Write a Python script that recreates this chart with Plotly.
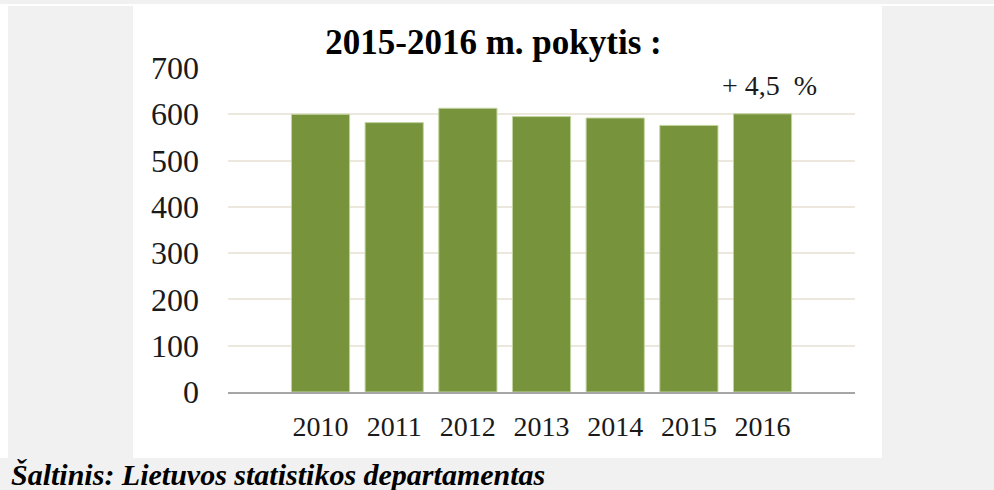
import plotly.graph_objects as go

# ---- data ----
years = ["2010", "2011", "2012", "2013", "2014", "2015", "2016"]
values = [600, 582, 613, 595, 592, 576, 601]
change_label = "+ 4,5\u00a0 %"
title_text = "2015-2016 m. pokytis :"
source_text = "Šaltinis: Lietuvos statistikos departamentas"
y_ticks = [0, 100, 200, 300, 400, 500, 600, 700]

W, H = 994, 490
L, R, T, B = 228, 139, 68, 98
PW, PH = W - L - R, H - T - B

def px(x):
    return (x - L) / PW

def py(y):
    return (H - B - y) / PH

GRAY = "#f1f1f1"
SERIF = "Liberation Serif, Times New Roman, serif"

fig = go.Figure()
fig.add_trace(go.Bar(
    x=years, y=values,
    marker=dict(color="#77933c", line=dict(color="#c4d4a0", width=1)),
    hoverinfo="x+y",
))

shapes = [
    dict(type="rect", xref="paper", yref="paper", x0=px(0), x1=px(W), y0=py(4), y1=py(0),
         fillcolor=GRAY, line_width=0, layer="below"),
    dict(type="rect", xref="paper", yref="paper", x0=px(0), x1=px(W), y0=py(H), y1=py(458),
         fillcolor=GRAY, line_width=0, layer="below"),
    dict(type="rect", xref="paper", yref="paper", x0=px(8), x1=px(133), y0=py(458), y1=py(6),
         fillcolor=GRAY, line_width=0, layer="below"),
    dict(type="rect", xref="paper", yref="paper", x0=px(882), x1=px(W), y0=py(458), y1=py(6),
         fillcolor=GRAY, line_width=0, layer="below"),
]

last_idx = len(years) - 1
annotations = [
    dict(x=last_idx, y=662, xref="x", yref="y", text=change_label, showarrow=False,
         xshift=7, yanchor="middle",
         font=dict(family=SERIF, size=28, color="#1a1a1a")),
    dict(x=px(9), y=py(474), xref="paper", yref="paper", xanchor="left", yanchor="middle",
         text="<b><i>" + source_text + "</i></b>", showarrow=False,
         font=dict(family=SERIF, size=30, color="black")),
]

fig.update_layout(
    width=W, height=H,
    margin=dict(l=L, r=R, t=T, b=B, pad=0),
    paper_bgcolor="white", plot_bgcolor="white",
    showlegend=False,
    bargap=0.21,
    title=dict(text="<b>" + title_text + "</b>", x=493.5 / W, xanchor="center",
               y=1 - 42 / H, yanchor="middle", yref="container",
               font=dict(family=SERIF, size=35, color="black")),
    shapes=shapes,
    annotations=annotations,
    xaxis=dict(
        type="category", range=[-1.256, 7.255],
        showline=True, linecolor="#a6a6a6", linewidth=2,
        showgrid=False, ticks="", ticklabelstandoff=8,
        tickfont=dict(family=SERIF, size=28, color="#1a1a1a"),
        fixedrange=True,
    ),
    yaxis=dict(
        range=[0, 700], tickvals=y_ticks,
        showgrid=True, gridcolor="#ece8dd", gridwidth=1.5,
        zeroline=False, showline=False, ticks="",
        ticklabelstandoff=28,
        tickfont=dict(family=SERIF, size=32, color="#1a1a1a"),
        fixedrange=True,
    ),
)

fig.write_html(
    "out.html",
    config={"displayModeBar": False},
    post_script="document.body.style.margin='0';document.body.style.padding='0';document.body.style.overflow='hidden';",
)
